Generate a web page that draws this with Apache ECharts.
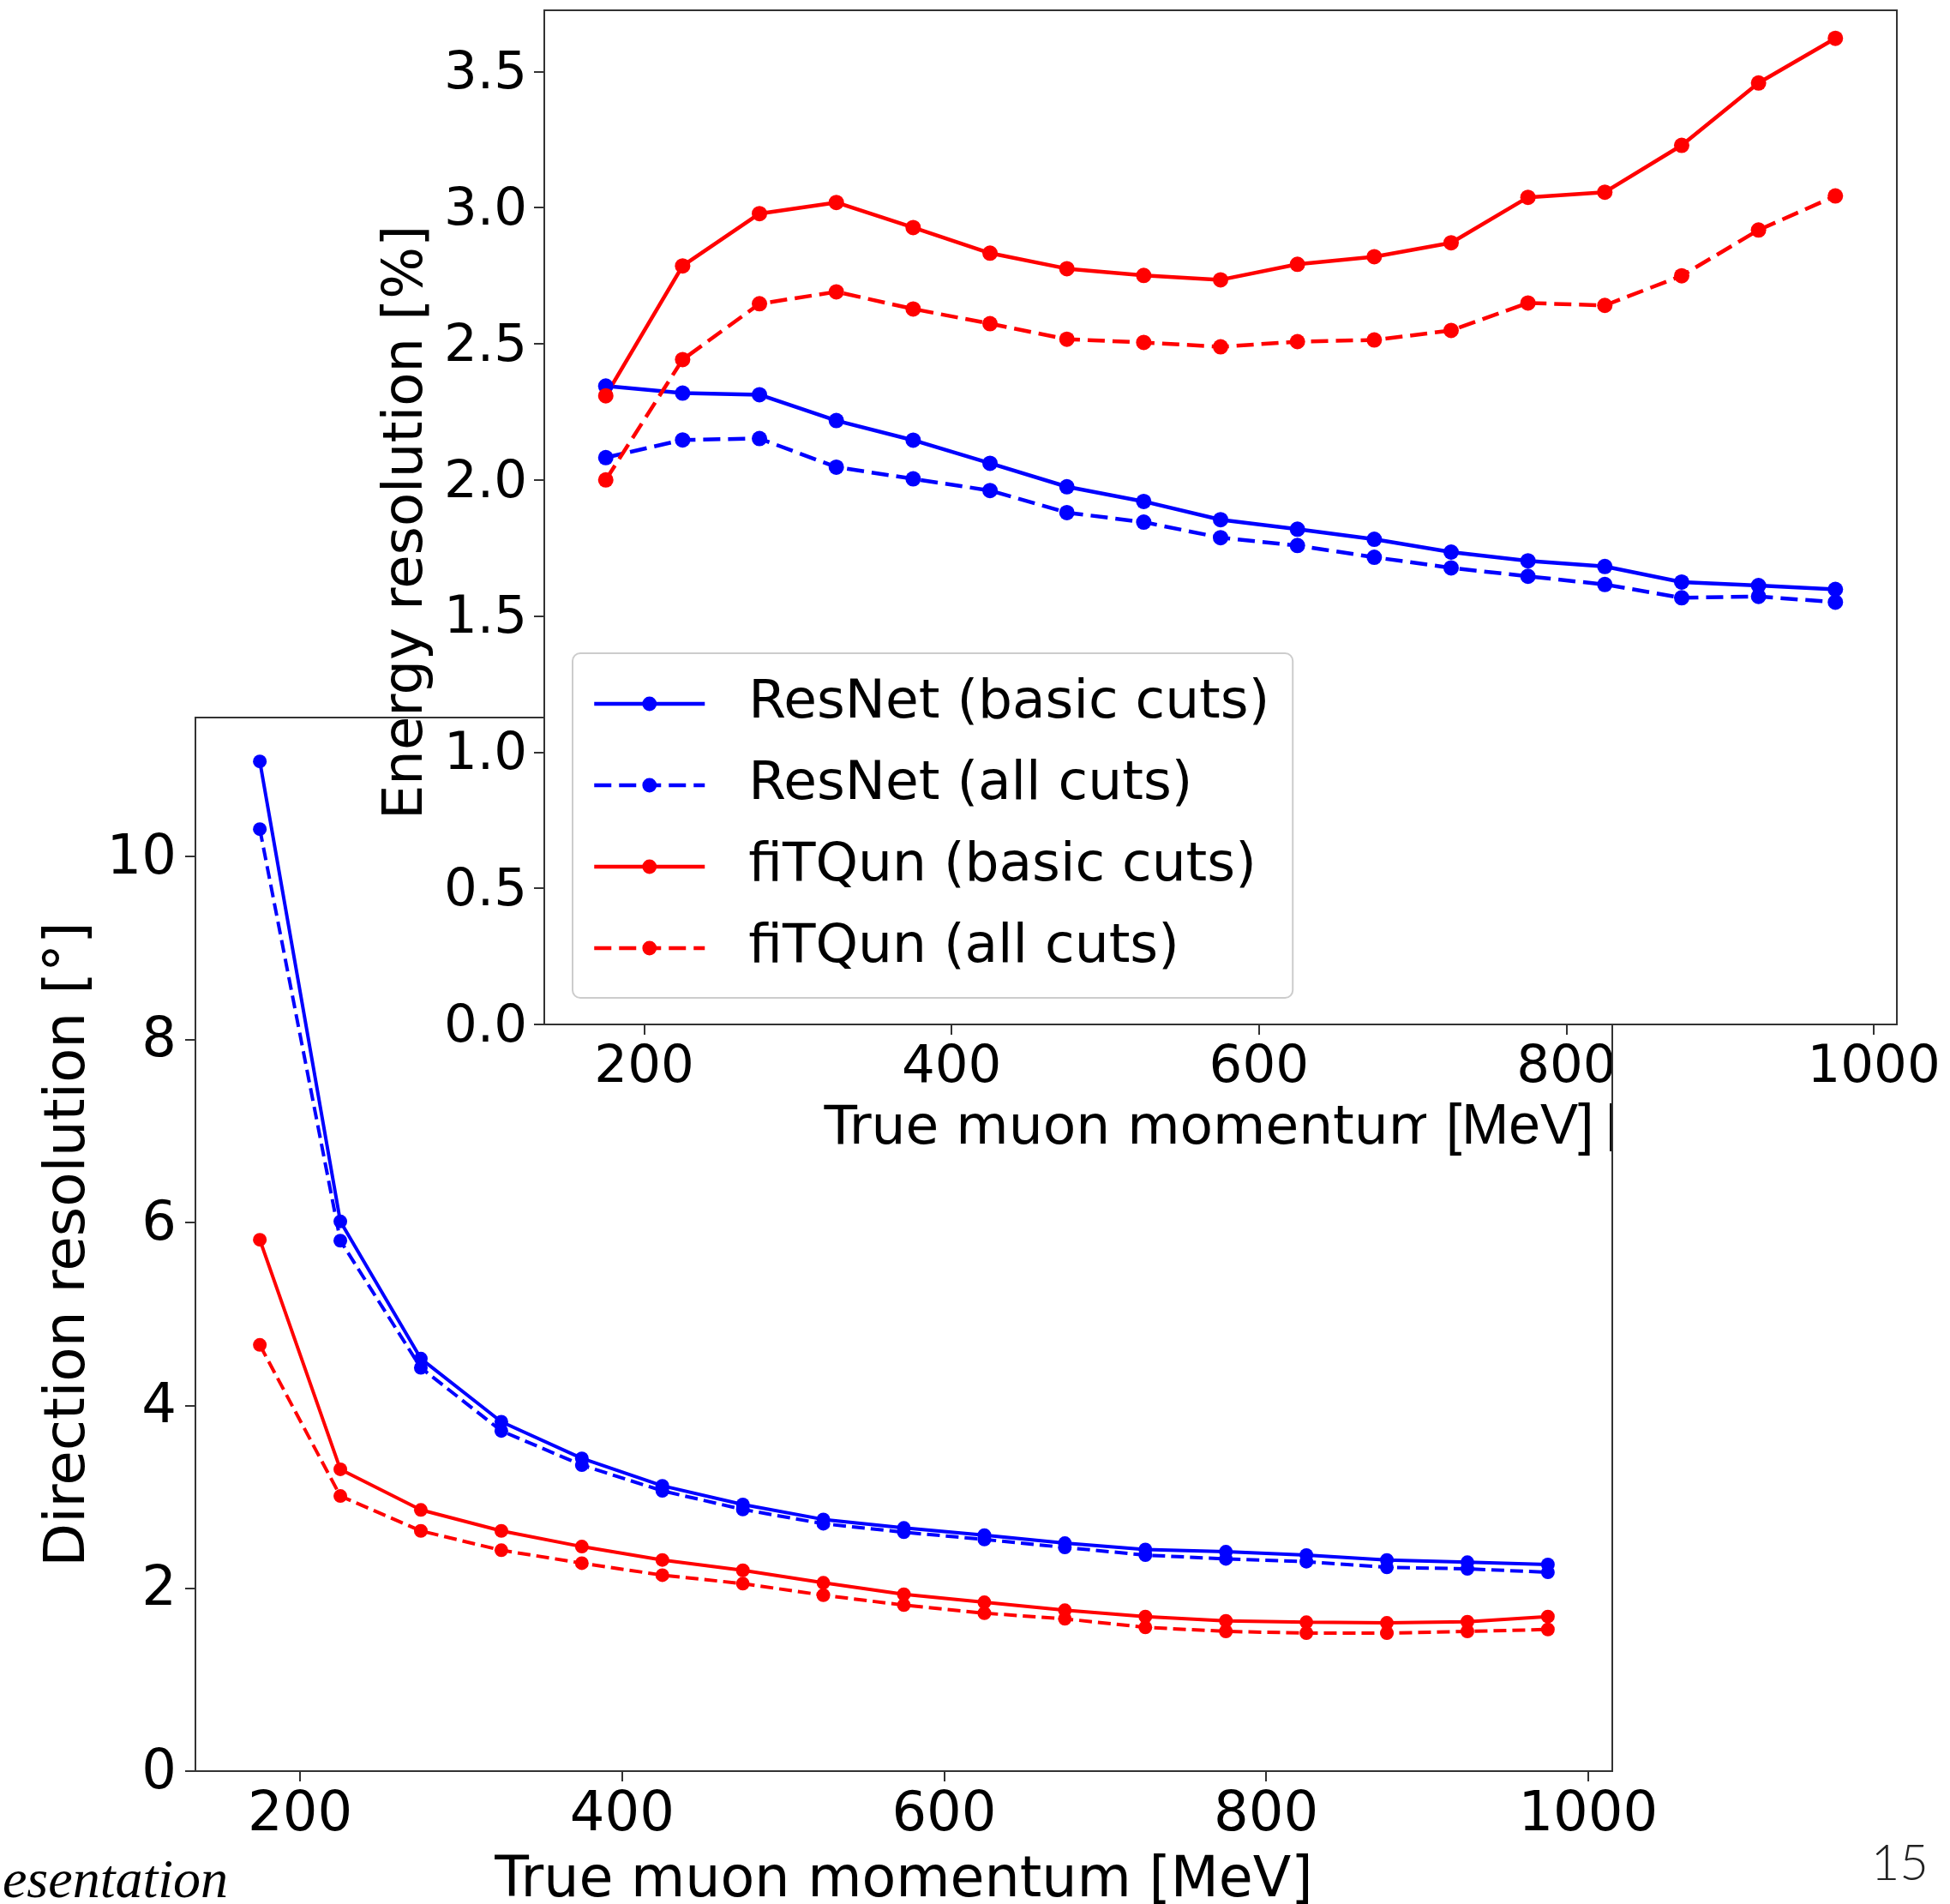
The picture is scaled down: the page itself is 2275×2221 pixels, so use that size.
<!DOCTYPE html>
<html>
<head>
<meta charset="utf-8">
<script src="https://cdn.jsdelivr.net/npm/echarts@6/dist/echarts.min.js"></script>
<style>
  html, body { margin: 0; padding: 0; background: #ffffff; }
  #chart { width: 2275px; height: 2221px; }
</style>
</head>
<body>
<div id="chart"></div>
<script>
// True muon momentum bins [MeV]
const momentum = [175, 225, 275, 325, 375, 425, 475, 525, 575, 625, 675, 725, 775, 825, 875, 925, 975];

// Energy resolution [%]
const resnetBasicEnergy = [2.345, 2.319, 2.313, 2.218, 2.146, 2.061, 1.975, 1.921, 1.854, 1.819, 1.782, 1.735, 1.703, 1.682, 1.625, 1.612, 1.598];
const resnetAllEnergy   = [2.082, 2.147, 2.152, 2.047, 2.004, 1.961, 1.880, 1.845, 1.788, 1.759, 1.716, 1.677, 1.646, 1.616, 1.567, 1.572, 1.551];
const fitqunBasicEnergy = [2.309, 2.786, 2.978, 3.019, 2.927, 2.833, 2.776, 2.751, 2.735, 2.792, 2.820, 2.871, 3.038, 3.057, 3.229, 3.458, 3.622];
const fitqunAllEnergy   = [2.000, 2.442, 2.647, 2.691, 2.628, 2.574, 2.517, 2.505, 2.489, 2.508, 2.514, 2.549, 2.650, 2.641, 2.750, 2.918, 3.043];

// Direction resolution [deg]
const resnetBasicDirection = [11.04, 6.01, 4.51, 3.82, 3.42, 3.12, 2.915, 2.752, 2.659, 2.580, 2.493, 2.424, 2.399, 2.362, 2.309, 2.284, 2.259];
const resnetAllDirection   = [10.30, 5.80, 4.41, 3.72, 3.346, 3.065, 2.861, 2.705, 2.612, 2.533, 2.446, 2.362, 2.321, 2.290, 2.228, 2.212, 2.174];
const fitqunBasicDirection = [5.81, 3.30, 2.856, 2.627, 2.455, 2.309, 2.196, 2.059, 1.934, 1.846, 1.759, 1.690, 1.643, 1.628, 1.621, 1.634, 1.690];
const fitqunAllDirection   = [4.66, 3.008, 2.627, 2.415, 2.274, 2.143, 2.050, 1.924, 1.815, 1.727, 1.665, 1.572, 1.528, 1.509, 1.509, 1.528, 1.549];

// Tick values
const momentumTicks  = [200, 400, 600, 800, 1000];
const energyTicks    = [0, 0.5, 1.0, 1.5, 2.0, 2.5, 3.0, 3.5];
const directionTicks = [0, 2, 4, 6, 8, 10];

// Legend labels
const seriesNames = ['ResNet (basic cuts)', 'ResNet (all cuts)', 'fiTQun (basic cuts)', 'fiTQun (all cuts)'];

const FONT = 'DejaVu Sans';
const BLUE = '#0000ff';
const RED = '#ff0000';
const SPINE = '#333333';

function pairs(values) {
  return momentum.map((m, i) => [m, values[i]]);
}

function tick(values) {
  return { show: true, inside: false, length: 12, customValues: values,
           lineStyle: { color: SPINE, width: 2 } };
}

function label(values, size, margin, fmt) {
  return { show: true, customValues: values, margin: margin, fontSize: size,
           fontFamily: FONT, color: '#000', formatter: fmt };
}

// y tick labels sit a few pixels below their tick, as in matplotlib
function yLabel(values, size, margin, fmt, lh) {
  return Object.assign(label(values, size, margin, fmt),
                       { verticalAlign: 'top', lineHeight: lh });
}

function lineSeries(name, values, color, dashed, top) {
  return {
    name: name,
    type: 'line',
    xAxisIndex: top ? 1 : 0,
    yAxisIndex: top ? 1 : 0,
    data: pairs(values),
    symbol: 'circle',
    symbolSize: top ? 18 : 16,
    showSymbol: true,
    clip: false,
    z: top ? 6 : 2,
    itemStyle: { color: color },
    lineStyle: {
      color: color,
      width: top ? 4.5 : 4,
      type: dashed ? (top ? [20, 9] : [15, 7]) : 'solid'
    },
    emphasis: { disabled: true },
    animation: false
  };
}

const chart = echarts.init(document.getElementById('chart'), null, { renderer: 'canvas' });

chart.setOption({
  backgroundColor: '#ffffff',
  animation: false,
  grid: [
    { // direction resolution panel
      left: 228, top: 837, width: 1653, height: 1229,
      outerBoundsMode: 'none', containLabel: false,
      show: true, backgroundColor: 'transparent',
      borderColor: SPINE, borderWidth: 2, z: 0
    },
    { // energy resolution panel, drawn over the other one
      left: 635, top: 12, width: 1578, height: 1183,
      outerBoundsMode: 'none', containLabel: false,
      show: true, backgroundColor: '#ffffff',
      borderColor: SPINE, borderWidth: 2, z: 3
    }
  ],
  xAxis: [
    {
      gridIndex: 0, type: 'value', min: 135, max: 1015, z: 1,
      axisLine: { show: false }, splitLine: { show: false },
      axisTick: tick(momentumTicks),
      axisLabel: label(momentumTicks, 64, 20, v => String(v)),
      name: 'True muon momentum [MeV]', nameLocation: 'middle', nameGap: 97,
      nameTextStyle: { fontSize: 65, fontFamily: FONT, color: '#000' }
    },
    {
      gridIndex: 1, type: 'value', min: 135, max: 1015, z: 4,
      axisLine: { show: false }, splitLine: { show: false },
      axisTick: tick(momentumTicks),
      axisLabel: label(momentumTicks, 61, 21, v => String(v)),
      name: 'True muon momentum [MeV]', nameLocation: 'middle', nameGap: 91,
      nameTextStyle: { fontSize: 63, fontFamily: FONT, color: '#000' }
    }
  ],
  yAxis: [
    {
      gridIndex: 0, type: 'value', min: 0, max: 11.52, z: 1,
      axisLine: { show: false }, splitLine: { show: false },
      axisTick: tick(directionTicks),
      axisLabel: yLabel(directionTicks, 64, 22, v => String(v), 6),
      name: 'Direction resolution [°]', nameLocation: 'middle', nameGap: 112, nameRotate: 90,
      nameTextStyle: { fontSize: 66, fontFamily: FONT, color: '#000' }
    },
    {
      gridIndex: 1, type: 'value', min: 0, max: 3.725, z: 4,
      axisLine: { show: false }, splitLine: { show: false },
      axisTick: tick(energyTicks),
      axisLabel: yLabel(energyTicks, 61, 20, v => v.toFixed(1), 8),
      name: 'Energy resolution [%]', nameLocation: 'middle', nameGap: 126, nameRotate: 90,
      nameTextStyle: { fontSize: 64, fontFamily: FONT, color: '#000', padding: [0, 12, 0, 0] }
    }
  ],
  legend: {
    show: true,
    data: seriesNames,
    orient: 'vertical',
    left: 668, top: 762,
    padding: [24, 27, 23, 23],
    itemWidth: 129, itemHeight: 21, itemGap: 25,
    backgroundColor: 'rgba(255,255,255,0.8)',
    borderColor: '#cccccc', borderWidth: 2, borderRadius: 9,
    lineStyle: { width: 4.5 },
    selectedMode: false,
    z: 8,
    textStyle: { fontSize: 63, fontFamily: FONT, color: '#000', lineHeight: 70,
                 padding: [0, 0, 0, 46] }
  },
  series: [
    lineSeries(seriesNames[0], resnetBasicEnergy, BLUE, false, true),
    lineSeries(seriesNames[1], resnetAllEnergy, BLUE, true, true),
    lineSeries(seriesNames[2], fitqunBasicEnergy, RED, false, true),
    lineSeries(seriesNames[3], fitqunAllEnergy, RED, true, true),
    lineSeries(seriesNames[0], resnetBasicDirection, BLUE, false, false),
    lineSeries(seriesNames[1], resnetAllDirection, BLUE, true, false),
    lineSeries(seriesNames[2], fitqunBasicDirection, RED, false, false),
    lineSeries(seriesNames[3], fitqunAllDirection, RED, true, false)
  ],
  graphic: [
    { // relabelled unit on the upper panel's axis title
      type: 'rect', z: 20, silent: true,
      shape: { x: 1664, y: 1268, width: 214, height: 100 },
      style: { fill: '#ffffff' }
    },
    {
      type: 'text', z: 21, silent: true, x: 1687, y: 1316,
      style: { text: '[MeV]', font: '66px "Liberation Sans"', fill: '#000',
               textAlign: 'left', textVerticalAlign: 'middle' }
    },
    { // right spine of the lower panel, crossing the upper panel's axis title
      type: 'line', z: 22, silent: true,
      shape: { x1: 1881, y1: 1196, x2: 1881, y2: 1380 },
      style: { stroke: SPINE, lineWidth: 2 }
    },
    { // slide footer
      type: 'text', z: 21, silent: true, x: 266, y: 2196,
      style: { text: 'esentation', font: 'italic 64px "Liberation Serif"', fill: '#000',
               textAlign: 'right', textVerticalAlign: 'middle' }
    },
    { // slide number
      type: 'text', z: 21, silent: true, x: 2250, y: 2174,
      style: { text: '15', font: '300 58px Lato', fill: '#222',
               textAlign: 'right', textVerticalAlign: 'middle' }
    }
  ]
});
</script>
</body>
</html>
